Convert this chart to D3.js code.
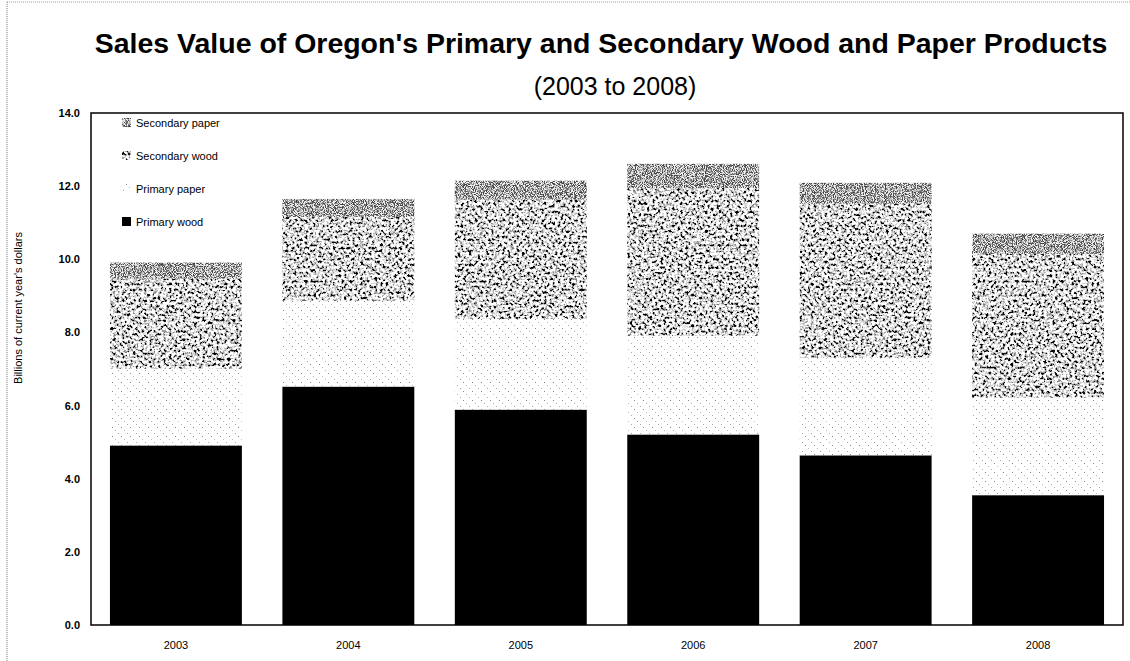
<!DOCTYPE html>
<meta charset="utf-8">
<script src="https://d3js.org/d3.v7.min.js"></script>
<style>
  body { margin: 0; background: #fff; }
  text { font-family: Arial, "Liberation Sans", sans-serif; }
</style>
<div id="chart"></div>
<script>

// data (billions of current year's dollars)
var years = ["2003", "2004", "2005", "2006", "2007", "2008"];
var primaryWood    = [4.91, 6.52, 5.89, 5.21, 4.64, 3.55];
var primaryPaper   = [2.10, 2.35, 2.48, 2.70, 2.67, 2.67];
var secondaryWood  = [2.46, 2.29, 3.26, 4.04, 4.21, 3.93];
var secondaryPaper = [0.44, 0.49, 0.52, 0.66, 0.57, 0.55];
var seriesNames = ["Primary wood", "Primary paper", "Secondary wood", "Secondary paper"];
var yTicks = [0, 2, 4, 6, 8, 10, 12, 14];

// plot box
var plotLeft = 91, plotRight = 1123, plotTop = 113, plotBottom = 625;

var svg = d3.select("#chart")
  .append("svg")
    .attr("width", 1130)
    .attr("height", 661);

var defs = svg.append("defs");

// primary paper: sparse dots on diagonal lines
var pp = defs.append("pattern")
    .attr("id", "ppPat")
    .attr("patternUnits", "userSpaceOnUse")
    .attr("width", 9).attr("height", 9);
pp.append("rect").attr("width", 9).attr("height", 9).attr("fill", "#fff");
[[1,1,"#aaa"],[4,4,"#888"],[7,7,"#bbb"]].forEach(function(d) {
  pp.append("rect").attr("x", d[0]).attr("y", d[1]).attr("width", 1).attr("height", 1).attr("fill", d[2]);
});

// speckle texture made from noise, thresholded into black / grey / white
function speckle(id, freq, octaves, seed, table) {
  var f = defs.append("filter")
      .attr("id", id)
      .attr("x", 0).attr("y", 0).attr("width", 1).attr("height", 1)
      .attr("color-interpolation-filters", "sRGB");
  f.append("feTurbulence")
      .attr("type", "fractalNoise")
      .attr("baseFrequency", freq)
      .attr("numOctaves", octaves)
      .attr("seed", seed)
      .attr("result", "noise");
  // grey from the red channel only
  f.append("feColorMatrix")
      .attr("in", "noise")
      .attr("type", "matrix")
      .attr("values", "1 0 0 0 0  1 0 0 0 0  1 0 0 0 0  0 0 0 0 1")
      .attr("result", "grey");
  var ct = f.append("feComponentTransfer").attr("in", "grey").attr("result", "tex");
  ["feFuncR", "feFuncG", "feFuncB"].forEach(function(fn) {
    ct.append(fn).attr("type", "discrete").attr("tableValues", table);
  });
  ct.append("feFuncA").attr("type", "linear").attr("slope", 0).attr("intercept", 1);
  f.append("feComposite").attr("in", "tex").attr("in2", "SourceGraphic").attr("operator", "in");
}
// 20 steps of 0.05
speckle("swTex", 0.36, 2, 7,
  "0 0 0 0 0 0 0.1 0.5 0.65 0.8 0.9 1 1 1 1 1 1 1 1 1");
speckle("spTex", 1.1, 1, 3,
  "0.25 0.25 0.25 0.25 0.25 0.25 0.25 0.3 0.4 0.55 0.75 0.9 0.95 0.95 0.95 0.95 0.95 0.95 0.95 0.95");

function paint(sel, name) {
  if (name === "Primary wood") sel.attr("fill", "#000");
  else if (name === "Primary paper") sel.attr("fill", "url(#ppPat)");
  else if (name === "Secondary wood") sel.attr("fill", "#000").attr("filter", "url(#swTex)");
  else sel.attr("fill", "#000").attr("filter", "url(#spTex)");
}

// outer dotted border of the scan
svg.append("line").attr("x1", 7).attr("x2", 7).attr("y1", 2).attr("y2", 661)
    .attr("stroke", "#777").attr("stroke-dasharray", "1,1");
svg.append("line").attr("x1", 7).attr("x2", 1130).attr("y1", 2).attr("y2", 2)
    .attr("stroke", "#999").attr("stroke-dasharray", "1,1");

// titles
var title = svg.append("text")
    .attr("x", 601).attr("y", 53)
    .attr("text-anchor", "middle")
    .style("font-weight", "bold")
    .style("font-size", "28px")
    .text("Sales Value of Oregon's Primary and Secondary Wood and Paper Products");
var tw = title.node().getComputedTextLength();
title.style("font-size", (28 * 1013 / tw) + "px");

svg.append("text")
    .attr("x", 615).attr("y", 95)
    .attr("text-anchor", "middle")
    .style("font-size", "25px")
    .text("(2003 to 2008)");

// scales
var x = d3.scaleBand()
    .domain(years)
    .range([plotLeft, plotRight])
    .paddingInner(0.235)
    .paddingOuter(0.11);

var y = d3.scaleLinear()
    .domain([0, 14])
    .range([plotBottom, plotTop]);

// stack
var table = years.map(function(yr, i) {
  return {
    year: yr,
    "Primary wood": primaryWood[i],
    "Primary paper": primaryPaper[i],
    "Secondary wood": secondaryWood[i],
    "Secondary paper": secondaryPaper[i]
  };
});
var stacked = d3.stack().keys(seriesNames)(table);

svg.selectAll("g.layer")
  .data(stacked)
  .enter().append("g")
    .attr("class", "layer")
    .each(function(s) {
      var r = d3.select(this).selectAll("rect")
        .data(s)
        .enter().append("rect")
          .attr("x", function(d) { return x(d.data.year); })
          .attr("y", function(d) { return y(d[1]); })
          .attr("width", x.bandwidth())
          .attr("height", function(d) { return y(d[0]) - y(d[1]); });
      paint(r, s.key);
    });

// frame
svg.append("rect")
    .attr("x", plotLeft).attr("y", plotTop)
    .attr("width", plotRight - plotLeft).attr("height", plotBottom - plotTop)
    .attr("fill", "none")
    .attr("stroke", "#000")
    .attr("stroke-width", 1.5);

// axes
var yAxis = svg.append("g")
    .attr("transform", "translate(" + plotLeft + ",0)")
    .call(d3.axisLeft(y).tickValues(yTicks).tickFormat(d3.format(".1f")).tickSize(0).tickPadding(11));
yAxis.select(".domain").remove();
yAxis.selectAll("text")
    .style("font-size", "11px")
    .style("font-weight", "bold")
    .attr("fill", "#000");

var xAxis = svg.append("g")
    .attr("transform", "translate(0," + plotBottom + ")")
    .call(d3.axisBottom(x).tickSize(0).tickPadding(16));
xAxis.select(".domain").remove();
xAxis.selectAll("text")
    .style("font-size", "11px")
    .attr("fill", "#000");

svg.append("text")
    .attr("transform", "translate(22,308) rotate(-90)")
    .attr("text-anchor", "middle")
    .style("font-size", "11px")
    .text("Billions of current year's dollars");

// legend, top to bottom
var legendOrder = ["Secondary paper", "Secondary wood", "Primary paper", "Primary wood"];
var legend = svg.selectAll("g.legend")
  .data(legendOrder)
  .enter().append("g")
    .attr("class", "legend")
    .attr("transform", function(d, i) { return "translate(122," + (123 + i * 33) + ")"; });
legend.each(function(d) {
  var sw = d3.select(this).append("rect")
      .attr("x", 0).attr("y", -5)
      .attr("width", 9).attr("height", 9);
  paint(sw, d);
});
legend.append("text")
    .attr("x", 14).attr("y", 4)
    .style("font-size", "11px")
    .text(function(d) { return d; });

</script>
